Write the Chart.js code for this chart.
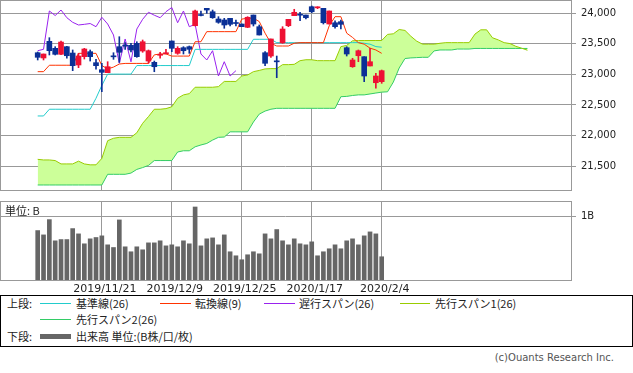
<!DOCTYPE html>
<html><head><meta charset="utf-8">
<script src="https://cdn.jsdelivr.net/npm/chart.js@4.4.1/dist/chart.umd.min.js"></script>
<style>
body{margin:0;background:#fff;width:633px;height:373px;overflow:hidden;position:relative;font-family:"Noto Sans CJK JP","DejaVu Sans",sans-serif;font-size:11px;color:#222;}
canvas{position:absolute;left:0;}
#main{top:0;}
#vol{top:194px;}
.t{position:absolute;white-space:nowrap;line-height:12px;}
.ln{position:absolute;height:1px;}
#legend{position:absolute;left:0;top:295px;width:631px;height:50px;border:1px solid #000;}
#copy{position:absolute;right:19px;top:352px;font-family:"DejaVu Sans",sans-serif;font-size:10px;color:#555;white-space:nowrap;}
</style></head>
<body>
<canvas id="main" width="633" height="191"></canvas>
<canvas id="vol" width="633" height="101"></canvas>
<div class="t" style="left:5px;top:204px;">単位: B</div>
<div id="legend"></div>
<div class="t" style="left:7px;top:297px;">上段:</div>
<div class="ln" style="left:40px;top:303px;width:31px;background:#22cccc"></div>
<div class="t" style="left:76px;top:297px;">基準線(26)</div>
<div class="ln" style="left:160px;top:303px;width:31px;background:#ff3300"></div>
<div class="t" style="left:195px;top:297px;">転換線(9)</div>
<div class="ln" style="left:264px;top:303px;width:31px;background:#9922ee"></div>
<div class="t" style="left:299px;top:297px;">遅行スパン(26)</div>
<div class="ln" style="left:400px;top:303px;width:30px;background:#99cc00"></div>
<div class="t" style="left:435px;top:297px;">先行スパン1(26)</div>
<div class="ln" style="left:40px;top:319px;width:31px;background:#33cc66"></div>
<div class="t" style="left:76px;top:313px;">先行スパン2(26)</div>
<div class="t" style="left:7px;top:330px;">下段:</div>
<div class="ln" style="left:40px;top:334px;width:31px;height:5px;background:#666"></div>
<div class="t" style="left:76px;top:330px;">出来高 単位:(B株/口/枚)</div>
<div id="copy">(c)Ouants Research Inc.</div>
<script>
// ---- data ----
const dates = ['2019/11/6','2019/11/7','2019/11/8','2019/11/11','2019/11/12','2019/11/13','2019/11/14','2019/11/15','2019/11/18','2019/11/19','2019/11/20','2019/11/21','2019/11/22','2019/11/25','2019/11/26','2019/11/27','2019/11/28','2019/11/29','2019/12/2','2019/12/3','2019/12/4','2019/12/5','2019/12/6','2019/12/9','2019/12/10','2019/12/11','2019/12/12','2019/12/13','2019/12/16','2019/12/17','2019/12/18','2019/12/19','2019/12/20','2019/12/23','2019/12/24','2019/12/25','2019/12/26','2019/12/27','2019/12/30','2020/1/6','2020/1/7','2020/1/8','2020/1/9','2020/1/10','2020/1/14','2020/1/15','2020/1/16','2020/1/17','2020/1/20','2020/1/21','2020/1/22','2020/1/23','2020/1/24','2020/1/27','2020/1/28','2020/1/29','2020/1/30','2020/1/31','2020/2/3','2020/2/4'];
const opens = [23355,23269,23542,23427,23329,23454,23350,23154,23290,23372,23192,23077,23028,23293,23454,23468,23476,23509,23383,23219,23198,23313,23339,23547,23345,23437,23454,23797,23969,24082,24026,23907,23891,23918,23838,23825,23771,23972,23781,23355,23301,23211,23519,23797,23961,23974,23972,24108,24090,24082,23825,23846,23863,23437,23126,23306,23290,23138,22864,22881];
const highs = [23367,23334,23601,23454,23547,23460,23400,23345,23427,23400,23247,23182,23208,23355,23617,23519,23509,23535,23563,23400,23219,23362,23411,23547,23454,23454,23465,24054,24038,24082,24054,23945,23918,23918,23891,23825,23945,23972,23809,23372,23580,23301,23781,23902,24066,24017,23972,24120,24108,24082,24038,23879,23891,23454,23264,23400,23290,23427,23018,23072];
const lows = [23236,23236,23318,23318,23323,23264,23061,23110,23252,23219,23084,22717,23028,23247,23198,23411,23367,23280,23362,23182,23044,23264,23334,23372,23329,23334,23345,23792,23956,24000,23918,23837,23755,23792,23792,23781,23765,23792,23645,23143,23280,22946,23509,23781,23961,23879,23907,24010,24076,23825,23825,23755,23743,23301,23116,23208,22881,23138,22773,22854];
const closes = [23280,23334,23388,23329,23530,23306,23143,23301,23416,23290,23143,23034,23126,23288,23362,23463,23400,23290,23535,23388,23126,23323,23350,23427,23427,23388,23411,24038,23964,24054,23928,23853,23809,23820,23833,23781,23935,23825,23645,23182,23580,23206,23743,23902,24017,23969,23928,24026,24095,23846,24038,23781,23820,23334,23236,23388,22974,23208,22974,23061];
const volumes = [0.776,0.708,0.948,0.615,0.635,0.635,0.807,0.724,0.568,0.646,0.667,0.693,0.552,0.510,0.943,0.521,0.443,0.521,0.474,0.583,0.583,0.615,0.536,0.552,0.521,0.615,0.568,1.146,0.536,0.646,0.661,0.552,0.708,0.443,0.380,0.318,0.396,0.443,0.411,0.724,0.646,0.792,0.615,0.552,0.646,0.568,0.552,0.599,0.380,0.443,0.490,0.552,0.490,0.615,0.646,0.552,0.693,0.755,0.724,0.365];
const tenkan = [23045,23045,23150,23150,23150,23150,23150,23345,23345,23345,23345,23145,23090,23120,23170,23180,23180,23180,23180,23180,23320,23335,23335,23300,23300,23300,23300,23535,23535,23700,23700,23700,23700,23700,23700,23905,23920,23920,23865,23675,23510,23465,23465,23465,23510,23520,23520,23520,23520,23520,23795,23945,23945,23675,23605,23520,23495,23430,23400,23345];
const kijun = [22320,22320,22430,22430,22430,22430,22430,22430,22430,22430,22610,22820,23005,23005,23005,23005,23005,23145,23145,23145,23145,23145,23145,23145,23145,23145,23145,23410,23410,23410,23410,23410,23410,23410,23410,23410,23410,23575,23575,23575,23575,23520,23520,23520,23520,23520,23520,23520,23520,23520,23520,23520,23520,23520,23520,23520,23510,23495,23455,23445];
const chikou = [23388,23411,24038,23964,24054,23928,23853,23809,23820,23833,23781,23935,23825,23645,23182,23580,23206,23743,23902,24017,23969,23928,24026,24095,23846,24038,23781,23820,23334,23236,23388,22974,23208,22974,23061];
const senkouA = [21610,21600,21600,21590,21535,21535,21535,21580,21535,21520,21520,21625,21915,21955,21970,21970,21970,22045,22200,22310,22430,22430,22440,22470,22610,22665,22685,22790,22790,22790,22790,22800,22885,22885,22885,22975,22990,23045,23065,23090,23095,23095,23160,23160,23165,23225,23240,23240,23225,23225,23225,23225,23455,23475,23550,23555,23555,23555,23555,23555,23655,23665,23735,23720,23625,23545,23495,23495,23495,23510,23520,23520,23520,23520,23520,23660,23730,23730,23600,23565,23520,23505,23460,23430,23395];
const senkouB = [21190,21190,21190,21190,21190,21190,21190,21190,21190,21190,21190,21190,21365,21365,21365,21365,21385,21445,21475,21510,21590,21590,21590,21590,21730,21750,21750,21815,21845,21870,21925,21970,21975,22060,22060,22060,22060,22220,22350,22400,22430,22445,22445,22445,22445,22445,22445,22445,22445,22445,22445,22445,22635,22640,22655,22665,22665,22680,22695,22710,22715,22875,23105,23260,23270,23275,23280,23280,23385,23400,23400,23400,23415,23415,23415,23425,23425,23425,23425,23425,23425,23425,23425,23425,23425];
const priceTicks = [21500,22000,22500,23000,23500,24000];
const dateTickIdx = [11,23,35,47,59];
const volTicks = [1];

// ---- scale settings ----
const X_MIN = -6.466, X_MAX = 91.47;
const P_MIN = 21108, P_MAX = 24218;
const V_MAX = 1.24;
const UP = '#ee1133', DOWN = '#0b3096';
const GRID = '#999999';

const frame = {
  id: 'frame',
  afterDraw(chart) {
    const {ctx, chartArea: a} = chart;
    ctx.save();
    ctx.strokeStyle = GRID; ctx.lineWidth = 1;
    ctx.strokeRect(Math.round(a.left) + 0.5, Math.round(a.top) + 0.5,
      Math.round(a.right) - Math.round(a.left), Math.round(a.bottom) - Math.round(a.top));
    ctx.restore();
  }
};
const fmt = v => String(v).replace(/\B(?=(\d{3})+(?!\d))/g, ',');
const xy = arr => arr.map((v, i) => ({x: i, y: v}));
const candleColors = closes.map((c, i) => c >= opens[i] ? UP : DOWN);

new Chart(document.getElementById('main'), {
  type: 'bar',
  data: {
    datasets: [
      {type: 'bar', data: closes.map((c, i) => ({x: i, y: [opens[i], c]})), backgroundColor: candleColors,
       barThickness: 5, minBarLength: 1, grouped: false, order: 0},
      {type: 'bar', data: closes.map((c, i) => ({x: i, y: [lows[i], highs[i]]})), backgroundColor: candleColors,
       barThickness: 1, grouped: false, order: 1},
      {type: 'line', data: xy(tenkan), borderColor: '#ff3300', borderWidth: 1, pointRadius: 0, tension: 0, fill: false, order: 2},
      {type: 'line', data: xy(kijun), borderColor: '#22cccc', borderWidth: 1, pointRadius: 0, tension: 0, fill: false, order: 3},
      {type: 'line', data: xy(chikou), borderColor: '#9922ee', borderWidth: 1, pointRadius: 0, tension: 0, fill: false, order: 4},
      {type: 'line', data: xy(senkouA), borderColor: '#99cc00', borderWidth: 1, pointRadius: 0, tension: 0,
       fill: '+1', backgroundColor: '#ccff99', order: 5},
      {type: 'line', data: xy(senkouB), borderColor: '#33cc66', borderWidth: 1, pointRadius: 0, tension: 0, fill: false, order: 6}
    ]
  },
  options: {
    animation: false, responsive: false, devicePixelRatio: 1,
    layout: {padding: {left: 0, right: 0, top: 0, bottom: 1}},
    plugins: {legend: {display: false}, tooltip: {enabled: false}, filler: {drawTime: 'beforeDatasetsDraw'}},
    scales: {
      x: {type: 'linear', min: X_MIN, max: X_MAX, offset: false,
          afterBuildTicks: s => { s.ticks = dateTickIdx.map(v => ({value: v})); },
          afterFit: s => { s.height = 0; s.paddingLeft = 0; s.paddingRight = 0; },
          grid: {color: GRID, drawTicks: false, offset: false}, border: {display: false},
          ticks: {display: false}},
      y: {position: 'right', min: P_MIN, max: P_MAX,
          afterBuildTicks: s => { s.ticks = priceTicks.map(v => ({value: v})); },
          afterFit: s => { s.width = 62; s.paddingTop = 0; s.paddingBottom = 0; },
          grid: {color: GRID, drawTicks: true, tickLength: 5}, border: {display: false},
          ticks: {padding: 5, color: '#222', font: {family: 'DejaVu Sans', size: 10}, callback: v => fmt(v)}}
    }
  },
  plugins: [frame]
});

new Chart(document.getElementById('vol'), {
  type: 'bar',
  data: {datasets: [{data: xy(volumes), backgroundColor: '#666666', barThickness: 4, grouped: false}]},
  options: {
    animation: false, responsive: false, devicePixelRatio: 1,
    layout: {padding: {left: 0, right: 0, top: 7, bottom: 0}},
    plugins: {legend: {display: false}, tooltip: {enabled: false}},
    scales: {
      x: {type: 'linear', min: X_MIN, max: X_MAX, offset: false,
          afterBuildTicks: s => { s.ticks = dateTickIdx.map(v => ({value: v})); },
          afterFit: s => { s.height = 15; s.paddingLeft = 0; s.paddingRight = 0; },
          grid: {color: GRID, drawTicks: false, offset: false}, border: {display: false},
          ticks: {padding: 3, labelOffset: 3, autoSkip: false, maxRotation: 0, color: '#222',
                  font: {family: 'DejaVu Sans', size: 11}, callback: v => dates[v]}},
      y: {position: 'right', min: 0, max: V_MAX,
          afterBuildTicks: s => { s.ticks = volTicks.map(v => ({value: v})); },
          afterFit: s => { s.width = 62; s.paddingTop = 0; s.paddingBottom = 0; },
          grid: {color: GRID, drawTicks: true, tickLength: 5}, border: {display: false},
          ticks: {padding: 5, color: '#222', font: {family: 'DejaVu Sans', size: 10}, callback: v => v + 'B'}}
    }
  },
  plugins: [frame]
});
</script>
</body></html>
